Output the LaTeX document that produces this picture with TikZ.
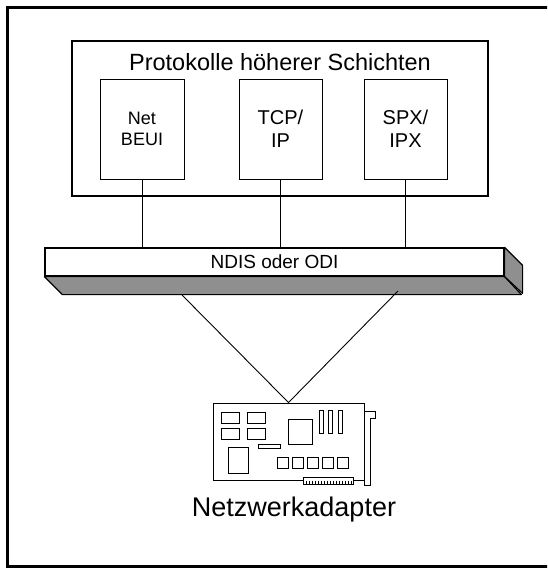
\documentclass[tikz,border=0pt]{standalone}
\usepackage{fontspec}
\setmainfont{Liberation Sans}
\definecolor{bargrey}{RGB}{143,143,143}

\begin{document}
\begin{tikzpicture}[x=1pt,y=-1pt,
		protbox/.style={draw,line width=1pt,minimum width=83pt,minimum height=100pt,inner sep=0pt,align=center,font=\fontsize{20}{22.5}\selectfont},
		wire/.style={line width=0.9pt},
		chip/.style={line width=0.8pt}]
		\useasboundingbox (0,0) rectangle (547,568);
		\clip (0,0) rectangle (547,568);
		\draw[line width=2.3pt] (7.5,7.5) rectangle (552,566.5);% outer frame

		% upper layer with the three protocol stacks
		\node[draw,line width=1.2pt,minimum width=416pt,minimum height=155pt,inner sep=0pt] (layer) at (280,118.5) {};
		\node[anchor=base,font=\fontsize{23.5}{28}\selectfont] (title) at (280,70) {Protokolle höherer Schichten};
		\node[protbox,minimum width=84pt,font=\fontsize{18}{21.5}\selectfont] (netbeui) at (142,129) {Net\\BEUI};
		\node[protbox] (tcpip) at (280.5,129) {TCP/\\IP};
		\node[protbox] (spxipx) at (405.5,129) {SPX/\\IPX};

		% the NDIS/ODI bar, front face plus extruded faces
		\node[draw,fill=white,line width=1.2pt,minimum width=459pt,minimum height=28pt,inner sep=0pt,font=\fontsize{19}{22}\selectfont] (ndis) at (274.5,262) {NDIS oder ODI};
		\filldraw[fill=bargrey,line width=1.2pt,line join=round] (ndis.south west) -- ++(18,18) -- ++(459,0) -- (ndis.south east) -- cycle;
		\filldraw[fill=bargrey,line width=1.2pt,line join=round] (ndis.north east) -- ++(18,18) -- ++(0,28) -- (ndis.south east) -- cycle;

		\foreach \p in {netbeui,tcpip,spxipx}
			\draw[wire] (\p.south) -- (\p.south |- ndis.north);

		% network card
		\node[draw,line width=0.9pt,minimum width=151pt,minimum height=77pt,inner sep=0pt] (card) at (288.5,441.5) {};
		\draw[line width=0.9pt] (364,411) -- (375,411) -- (375,418) -- (370,418) -- (370,485) -- (364.5,485) -- (364.5,480);
		\foreach \x in {221,247}
			\foreach \y in {412,428}
				\draw[chip] (\x,\y) rectangle ++(18.5,11);
		\draw[chip] (228,447) rectangle (248,473);
		\draw[chip] (258,444) rectangle (280,448);
		\draw[chip] (288,419) rectangle (312,444);
		\foreach \x in {319,328.5,338}
			\draw[chip] (\x,410) rectangle ++(4,23);
		\foreach \i in {0,...,4}
			\draw[chip] (277+\i*15,457) rectangle ++(11,11);
		\filldraw[fill=white,line width=0.8pt] (303,477.5) rectangle (353,484);
		\foreach \x in {306,309,...,351}
			\draw[line width=0.6pt] (\x,480.5) -- (\x,484);
		\node[anchor=base,font=\fontsize{27}{32}\selectfont] (adapter) at (294,516) {Netzwerkadapter};

		\coordinate (busl) at (182,295);
		\coordinate (busr) at (398,291);
		\draw[wire] (busl) -- (card.north) -- (busr);
	\end{tikzpicture}
\end{document}
